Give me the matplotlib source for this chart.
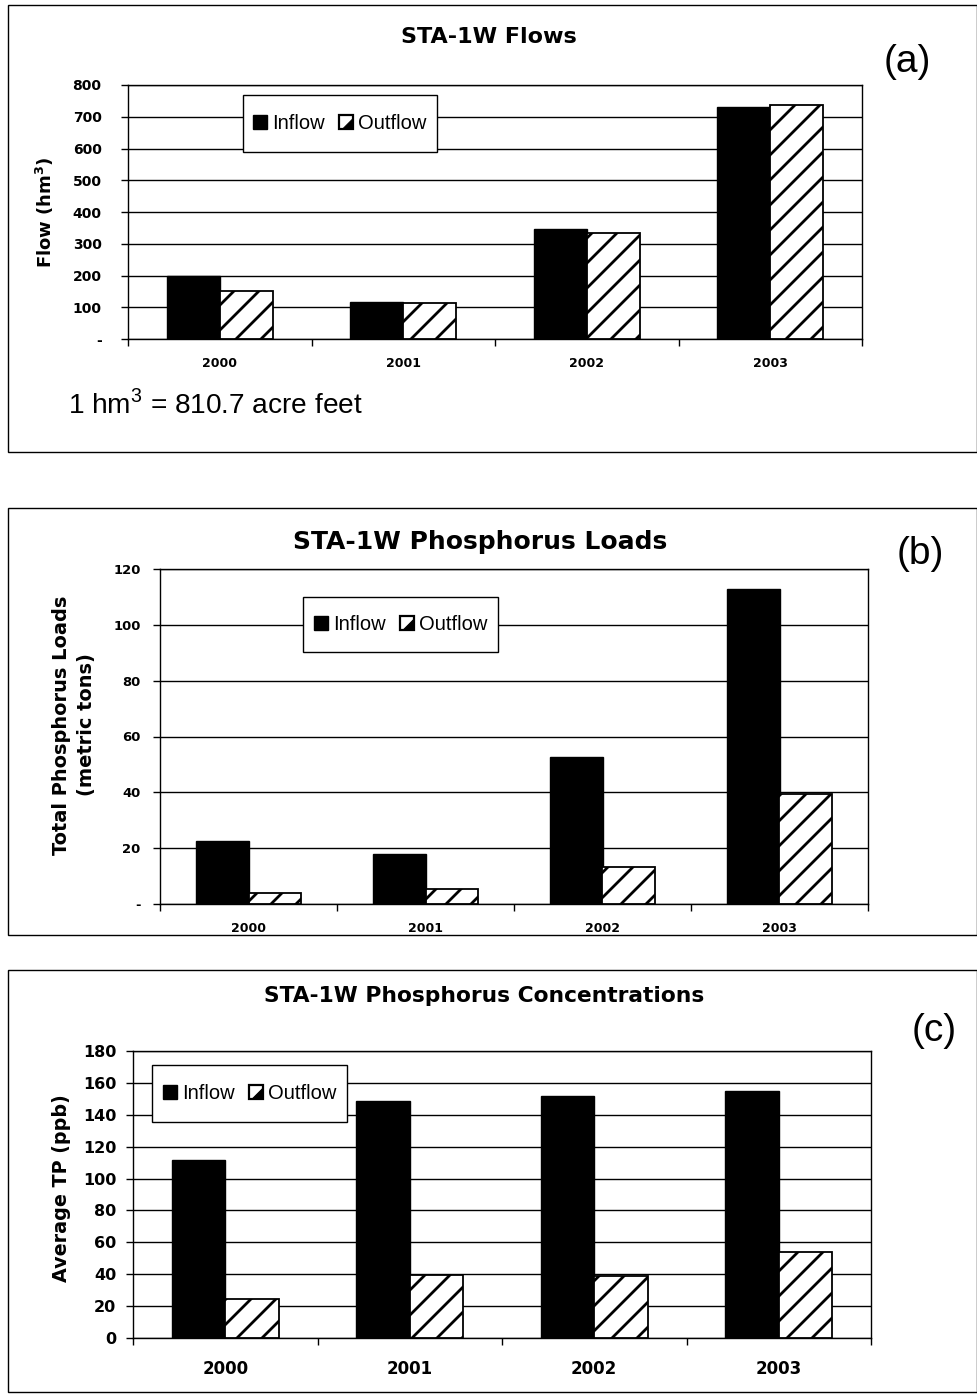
import matplotlib
matplotlib.use('Agg')
import matplotlib.pyplot as plt
from matplotlib.patches import Rectangle, Polygon, Patch
from matplotlib.legend_handler import HandlerBase
import numpy as np

# ---------------- data ----------------
years = ['2000', '2001', '2002', '2003']
series_names = ['Inflow', 'Outflow']

flow_in = [200, 115, 345, 731]
flow_out = [150, 112, 333, 737]

load_in = [22.6, 17.9, 52.6, 112.8]
load_out = [4.0, 5.2, 13.4, 39.4]

conc_in = [111.6, 148.5, 151.6, 155.0]
conc_out = [24.6, 39.6, 38.6, 53.8]

flow_ticks = [0, 100, 200, 300, 400, 500, 600, 700, 800]
flow_ticklabels = ['-', '100', '200', '300', '400', '500', '600', '700', '800']
load_ticks = [0, 20, 40, 60, 80, 100, 120]
load_ticklabels = ['-', '20', '40', '60', '80', '100', '120']
conc_ticks = [0, 20, 40, 60, 80, 100, 120, 140, 160, 180]
conc_ticklabels = ['0', '20', '40', '60', '80', '100', '120', '140', '160', '180']

# ---------------- setup ----------------
W, H = 978, 1394
DPI = 75               # hatch cell = 1 inch -> 75 px gives the coarse stripes
K = 100.0 / DPI        # sizes below are expressed as points at 100 dpi


def s(v):
    return v * K


plt.rcParams['hatch.linewidth'] = s(2.0)
plt.rcParams['hatch.color'] = 'black'
plt.rcParams['mathtext.fontset'] = 'custom'
plt.rcParams['mathtext.rm'] = 'Liberation Sans'
plt.rcParams['mathtext.bf'] = 'DejaVu Sans:bold'
BOLD = 'DejaVu Sans'
REG = 'Liberation Sans'

fig = plt.figure(figsize=(W / DPI, H / DPI), dpi=DPI)


def px_rect(l, t, r, b):
    return [l / W, 1 - b / H, (r - l) / W, (b - t) / H]


def fx(x):
    return x / W


def fy(y):
    return 1 - y / H


class OutflowHandler(HandlerBase):
    def create_artists(self, legend, orig_handle, xdescent, ydescent,
                       width, height, fontsize, trans):
        x0, y0 = -xdescent, -ydescent
        rect = Rectangle((x0, y0), width, height, facecolor='white',
                         edgecolor='black', linewidth=s(1.6), transform=trans)
        tri = Polygon([(x0 + width, y0), (x0 + width, y0 + height * 0.75),
                       (x0 + width * 0.25, y0)], closed=True,
                      facecolor='black', edgecolor='black', linewidth=s(0.8),
                      transform=trans)
        return [rect, tri]


class InflowHandler(HandlerBase):
    def create_artists(self, legend, orig_handle, xdescent, ydescent,
                       width, height, fontsize, trans):
        x0, y0 = -xdescent, -ydescent
        rect = Rectangle((x0, y0), width, height, facecolor='black',
                         edgecolor='black', linewidth=s(1.0), transform=trans)
        return [rect]


def panel_box(l, t, r, b):
    fig.patches.append(Rectangle((fx(l), fy(b)), fx(r) - fx(l), fy(t) - fy(b),
                                 transform=fig.transFigure, fill=False,
                                 edgecolor='black', linewidth=s(1.0)))


def make_panel(rect, vin, vout, ticks, ticklabels, ytick_fs, xtick_fs,
               ypad, xpad, barw):
    ax = fig.add_axes(px_rect(*rect))
    x = np.arange(len(years))
    ax.set_axisbelow(True)
    ax.bar(x - barw / 2, vin, barw, color='black', edgecolor='black',
           linewidth=s(1.0), zorder=3)
    ax.bar(x + barw / 2, vout, barw, facecolor='white', edgecolor='black',
           hatch='/', linewidth=s(1.3), zorder=3)
    ax.set_xlim(-0.5, len(years) - 0.5)
    ax.set_ylim(ticks[0], ticks[-1])
    ax.set_yticks(ticks)
    ax.set_yticklabels(ticklabels, fontfamily=BOLD, fontweight='bold',
                       fontsize=s(ytick_fs))
    ax.set_xticks(x)
    ax.set_xticklabels(years, fontfamily=BOLD, fontweight='bold',
                       fontsize=s(xtick_fs))
    ax.set_xticks(np.arange(len(years) + 1) - 0.5, minor=True)
    ax.tick_params(axis='x', which='major', length=0, pad=s(xpad))
    ax.tick_params(axis='x', which='minor', length=s(5), width=s(1.0),
                   direction='out', color='black')
    ax.tick_params(axis='y', which='major', length=s(5), width=s(1.0),
                   direction='out', pad=s(ypad))
    ax.yaxis.grid(True, color='black', linewidth=s(1.0))
    for sp in ax.spines.values():
        sp.set_color('black')
        sp.set_linewidth(s(1.0))
    return ax


def add_legend(ax, box):
    l, t, r, b = box
    fig.patches.append(Rectangle((fx(l), fy(b)), fx(r) - fx(l), fy(t) - fy(b),
                                 transform=fig.transFigure, facecolor='white',
                                 edgecolor='black', linewidth=s(1.0), zorder=5))
    h_in = Patch(facecolor='black')
    h_out = Patch(facecolor='white')
    leg = fig.legend([h_in, h_out], series_names, loc='center',
                     bbox_to_anchor=(fx((l + r) / 2), fy((t + b) / 2)),
                     bbox_transform=fig.transFigure, ncol=2, frameon=False,
                     prop={'family': REG, 'size': s(14.5)},
                     handlelength=0.7, handleheight=0.7, handletextpad=0.25,
                     columnspacing=0.7, borderpad=0.0,
                     handler_map={h_in: InflowHandler(), h_out: OutflowHandler()})
    leg.set_zorder(6)
    return leg


# ---------------- panel (a) ----------------
panel_box(8, 5, 977, 452)
axa = make_panel((128, 85, 862, 339), flow_in, flow_out, flow_ticks,
                 flow_ticklabels, 10, 9, 14, 13, 0.29)
fig.text(fx(489), fy(43), 'STA-1W Flows', ha='center', va='baseline',
         fontfamily=BOLD, fontweight='bold', fontsize=s(16))
fig.text(fx(907), fy(62), '(a)', ha='center', va='center',
         fontfamily=REG, fontsize=s(28))
fig.text(fx(45), fy(212), r'Flow (hm$^\mathbf{3}$)', ha='center', va='center',
         rotation=90, fontfamily=BOLD, fontweight='bold', fontsize=s(13))
fig.text(fx(68), fy(413), r'1 hm$^{\mathrm{3}}$ = 810.7 acre feet', ha='left',
         va='baseline', fontfamily=REG, fontsize=s(20.2))
add_legend(axa, (243, 95, 437, 152))

# ---------------- panel (b) ----------------
panel_box(8, 508, 977, 935)
axb = make_panel((160, 569, 868, 904), load_in, load_out, load_ticks,
                 load_ticklabels, 9.5, 9, 9, 13, 0.294)
fig.text(fx(480), fy(549), 'STA-1W Phosphorus Loads', ha='center',
         va='baseline', fontfamily=BOLD, fontweight='bold', fontsize=s(18))
fig.text(fx(920), fy(554), '(b)', ha='center', va='center',
         fontfamily=REG, fontsize=s(28))
fig.text(fx(74), fy(725), 'Total Phosphorus Loads\n(metric tons)',
         ha='center', va='center', rotation=90, multialignment='center',
         fontfamily=BOLD, fontweight='bold', fontsize=s(14), linespacing=1.45)
add_legend(axb, (303, 597, 498, 652))

# ---------------- panel (c) ----------------
panel_box(8, 970, 977, 1392)
axc = make_panel((133, 1051, 871, 1338), conc_in, conc_out, conc_ticks,
                 conc_ticklabels, 11.5, 12, 7, 16, 0.29)
fig.text(fx(484), fy(1002), 'STA-1W Phosphorus Concentrations', ha='center',
         va='baseline', fontfamily=BOLD, fontweight='bold', fontsize=s(15.7))
fig.text(fx(934), fy(1031), '(c)', ha='center', va='center',
         fontfamily=REG, fontsize=s(28))
fig.text(fx(62), fy(1188), 'Average TP (ppb)', ha='center', va='center',
         rotation=90, fontfamily=BOLD, fontweight='bold', fontsize=s(13.8))
add_legend(axc, (152, 1065, 347, 1122))

fig.savefig('out.png', dpi=DPI, facecolor='white')
